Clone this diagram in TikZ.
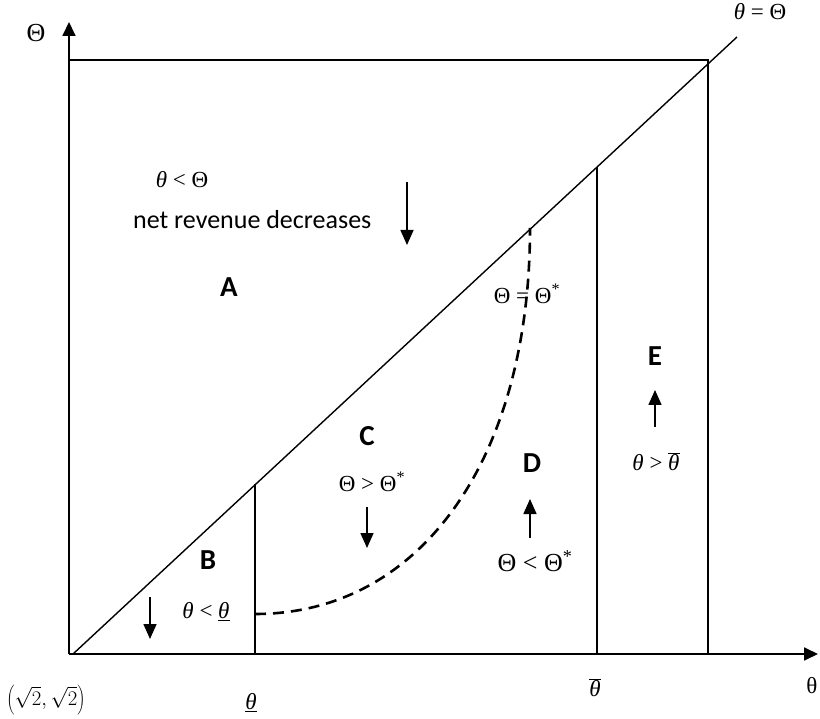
\documentclass[tikz,border=0pt]{standalone}
\usepackage{fontspec}
\newfontfamily\calib{Carlito}
\newfontfamily\lserif{Liberation Serif}
\usetikzlibrary{arrows.meta}
\newcommand\tht{{\itshape θ}}
\newcommand\thtbar{\ensuremath{\overline{\hbox{\tht}}}}
\newcommand\thtund{\underline{\tht}}
\newcommand\str{\textsuperscript{*}}
\begin{document}
\begin{tikzpicture}[x=1pt,y=-1pt,
  axis/.style={line width=1.8pt,-{Triangle[length=14pt,width=13pt]}},
  edge/.style={line width=1.4pt},
  move/.style={line width=1.6pt,-{Triangle[length=15pt,width=13pt]}},
  mlab/.style={font=\lserif\fontsize{23}{26}\selectfont,inner sep=0pt},
  reg/.style={font=\calib\bfseries\fontsize{29}{32}\selectfont,inner sep=0pt},
  txt/.style={font=\calib\fontsize{26}{30}\selectfont,inner sep=0pt}]
\useasboundingbox (0,0) rectangle (820,719);
% corner points
\coordinate (O) at (69,654);
\coordinate (Ytip) at (69,22);
\coordinate (Xtip) at (818,654);
\coordinate (TL) at (69,60);
\coordinate (TR) at (708,60);
\coordinate (BR) at (708,654);
\coordinate (D0) at (73,654);
\coordinate (D1) at (737,37);
\coordinate (V1b) at (255,654);
\coordinate (V1t) at (255,484);
\coordinate (V2b) at (597,654);
\coordinate (V2t) at (597,167);
\coordinate (Cs) at (255,614);
\coordinate (Ce) at (530,228);
% axes
\draw[axis] (O) -- (Ytip);
\draw[axis] (O) -- (Xtip);
% frame
\draw[edge] (TL) -- (TR) -- (BR);
\draw[edge] (D0) -- (D1);
\draw[edge] (V1b) -- (V1t);
\draw[edge] (V2b) -- (V2t);
\draw[line width=2.6pt,dash pattern=on 11pt off 7pt] (Cs) .. controls (420,614) and (530,460) .. (Ce);
% labels
\node[mlab,font=\lserif\fontsize{26}{28}\selectfont] (lTheta) at (36,33) {Θ};
\node[mlab] (ldiag) at (760,12) {\tht{} = Θ};
\node[mlab] (lA1) at (182,180) {\tht{} < Θ};
\node[txt,anchor=west] (lA2) at (133,220) {net revenue decreases};
\coordinate (aA0) at (407,182); \coordinate (aA1) at (407,245);
\draw[move] (aA0) -- (aA1);
\node[reg] (A) at (229,287) {A};
\node[mlab] (lstar) at (527,294) {Θ = Θ\str};
\node[reg] (E) at (655,356) {E};
\coordinate (aE0) at (655,427); \coordinate (aE1) at (655,390);
\draw[move] (aE0) -- (aE1);
\node[mlab] (lE) at (656,462) {\tht{} > \thtbar};
\node[reg] (C) at (367,436) {C};
\node[mlab] (lC) at (372,482) {Θ > Θ\str};
\coordinate (aC0) at (367,507); \coordinate (aC1) at (367,548);
\draw[move] (aC0) -- (aC1);
\node[reg] (D) at (532,463) {D};
\coordinate (aD0) at (530,538); \coordinate (aD1) at (530,499);
\draw[move] (aD0) -- (aD1);
\node[mlab,font=\lserif\fontsize{26}{28}\selectfont] (lD) at (535,561) {Θ < Θ\str};
\node[reg] (B) at (208,560) {B};
\node[mlab] (lB) at (206,612) {\tht{} < \thtund};
\coordinate (aB0) at (150,597); \coordinate (aB1) at (150,639);
\draw[move] (aB0) -- (aB1);
\node[mlab,font=\fontsize{21}{24}\selectfont] (lorig) at (46,700) {$\left(\sqrt{2},\sqrt{2}\right)$};
\node[mlab] (lunder) at (251,703) {\thtund};
\node[mlab] (lover) at (595,688) {\thtbar};
\node[mlab] (lx) at (812,686) {θ};
\end{tikzpicture}
\end{document}
